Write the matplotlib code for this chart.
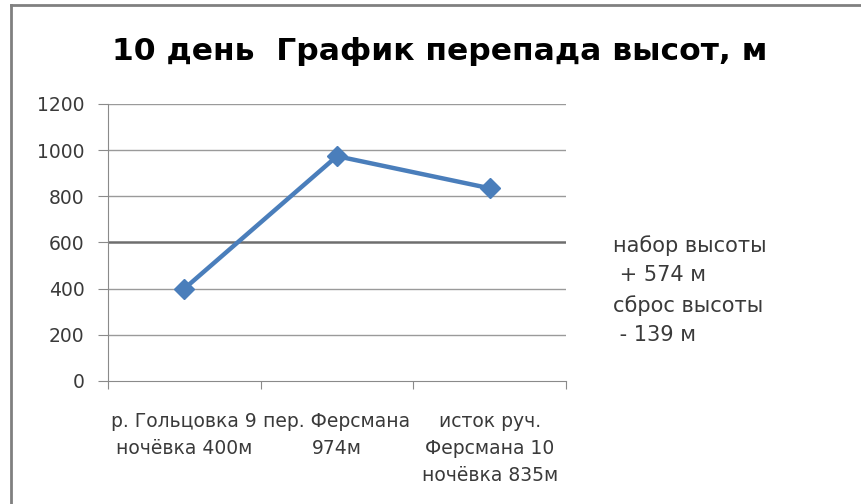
import matplotlib
matplotlib.use("Agg")
import matplotlib.pyplot as plt
from matplotlib.lines import Line2D

categories = ["р. Гольцовка 9\nночёвка 400м", "пер. Ферсмана\n974м", "исток руч.\nФерсмана 10\nночёвка 835м"]
heights = [400, 974, 835]
yticks = [0, 200, 400, 600, 800, 1000, 1200]
title = "10 день  График перепада высот, м"
note = "набор высоты\n + 574 м\nсброс высоты\n - 139 м"

plt.rcParams['font.family'] = ['DejaVu Sans']

fig = plt.figure(figsize=(8.62, 5.04), dpi=100)
fig.patch.set_facecolor('white')
ax = fig.add_axes([108/862, 1-381/504, (566-108)/862, (381-104)/504])

x = list(range(len(categories)))
ax.plot(x, heights, color='#4A7EBB', lw=3.2, marker='D', ms=10, mfc='#4A7EBB', mec='#4A7EBB', zorder=3, clip_on=False)

ax.set_xlim(-0.5, len(categories)-0.5)
ax.set_ylim(0, 1200)
ax.set_yticks(yticks)
ax.set_yticklabels([str(v) for v in yticks], fontsize=13.5, color='#3a3a3a')
for v in yticks[1:]:
    ax.axhline(v, color='#6e6e6e' if v == 600 else '#9a9a9a', lw=1.8 if v == 600 else 1.0, zorder=1)

ax.set_xticks([i - 0.5 for i in range(len(categories)+1)], minor=False)
ax.set_xticklabels([])
ax.set_xticks(x, minor=True)
ax.set_xticklabels(categories, minor=True, fontsize=13.5, color='#3a3a3a', linespacing=1.56)
ax.tick_params(axis='x', which='minor', length=0, pad=22)
ax.tick_params(axis='x', which='major', length=6, color='#8a8a8a', direction='out')
ax.tick_params(axis='y', length=7, color='#8a8a8a', direction='out', pad=10)

for s in ['top', 'right']:
    ax.spines[s].set_visible(False)
ax.spines['left'].set_color('#8a8a8a')
ax.spines['bottom'].set_color('#8a8a8a')

fig.text(440/862, 1-52/504, title, ha='center', va='center', fontsize=22.6, fontweight='bold', color='black')
fig.text(613/862, 1-235/504, note, ha='left', va='top', fontsize=15, color='#3a3a3a', linespacing=1.58)

# chart frame
fig.add_artist(Line2D([11/862, 11/862], [0, 1-5/504], transform=fig.transFigure, color='#808080', lw=2))
fig.add_artist(Line2D([11/862, 1], [1-5/504, 1-5/504], transform=fig.transFigure, color='#808080', lw=2))

fig.savefig('out.png', dpi=100, facecolor='white')
